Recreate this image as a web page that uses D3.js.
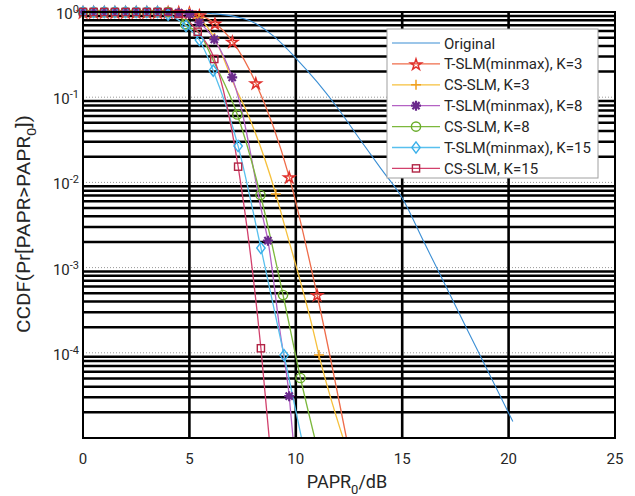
<!DOCTYPE html>
<html>
<head>
<meta charset="utf-8">
<script src="https://cdn.jsdelivr.net/npm/d3@7"></script>
<style>
  body { margin: 0; background: #fff; }
  svg { display: block; font-family: Roboto, "Liberation Sans", sans-serif; }
</style>
</head>
<body>
<svg id="viz" width="635" height="496"></svg>
<script>
(function () {
  "use strict";

  // ---- data ----
  const xTicks = [0, 5, 10, 15, 20, 25];
  const yDecades = [0, -1, -2, -3, -4];
  const seriesNames = ["Original", "T-SLM(minmax), K=3", "CS-SLM, K=3",
    "T-SLM(minmax), K=8", "CS-SLM, K=8", "T-SLM(minmax), K=15", "CS-SLM, K=15"];

  const origX = [0, 1, 2, 3, 4, 5, 6, 7, 8, 9, 10, 11, 12, 13, 14, 15, 16, 17, 18, 19, 20, 20.2];
  const origY = [1, 1, 1, 1, 1, 0.995, 0.96, 0.9, 0.76, 0.51, 0.288, 0.151, 0.0727, 0.0323,
    0.0145, 0.00656, 0.00205, 6.4e-4, 2.0e-4, 6.3e-5, 1.96e-5, 1.56e-5];

  const tslm3X = [0, 0.5, 1, 1.5, 2, 2.5, 3, 3.5, 4, 4.5, 5, 5.47, 6.2, 7.02, 8.12, 9.69, 11.0, 12.38];
  const tslm3Y = [1, 1, 1, 1, 1, 1, 1, 1, 1, 1, 0.99, 0.92, 0.736, 0.451, 0.147, 0.0116, 4.8e-4, 1e-5];
  const tslm3Mk = [0, 0.5, 1, 1.5, 2, 2.5, 3, 3.5, 4, 4.5, 5, 5.47, 6.2, 7.02, 8.12, 9.69, 11.0];

  const cs3X = [0, 0.5, 1, 1.5, 2, 2.5, 3, 3.5, 4, 4.5, 5, 5.45, 6.18, 7.14, 7.66, 9.06, 9.4, 10.81, 11.09, 12.22];
  const cs3Y = [1, 1, 1, 1, 1, 1, 1, 1, 1, 0.99, 0.98, 0.85, 0.495, 0.133, 0.0708, 0.00731, 0.00363, 1.86e-4, 9.4e-5, 1e-5];
  const cs3Mk = [0, 0.5, 1, 1.5, 2, 2.5, 3, 3.5, 4, 4.5, 5, 5.45, 6.18, 9.06, 11.09];

  const tslm8X = [0, 0.5, 1, 1.5, 2, 2.5, 3, 3.5, 4, 4.5, 5, 5.47, 6.17, 7.01, 7.34, 8.43, 8.69, 9.25, 9.69, 9.87];
  const tslm8Y = [1, 1, 1, 1, 1, 1, 1, 1, 1, 0.98, 0.95, 0.753, 0.478, 0.171, 0.0927, 0.00414, 0.00207, 1.85e-4, 3.1e-5, 1e-5];
  const tslm8Mk = [0, 0.5, 1, 1.5, 2, 2.5, 3, 3.5, 4, 4.5, 5, 5.47, 6.17, 7.01, 8.69, 9.69];

  const cs8X = [0, 0.5, 1, 1.5, 2, 2.5, 3, 3.5, 4, 4.5, 4.8, 5.47, 6.11, 7.25, 8.34, 9.4, 10.22, 10.89];
  const cs8Y = [1, 1, 1, 1, 1, 1, 1, 1, 1, 0.93, 0.72, 0.567, 0.273, 0.0626, 0.00711, 4.77e-4, 5.06e-5, 1e-5];
  const cs8Mk = [0, 0.5, 1, 1.5, 2, 2.5, 3, 3.5, 4, 4.8, 7.25, 8.34, 9.4, 10.22];

  const tslm15X = [0, 0.5, 1, 1.5, 2, 2.5, 3, 3.5, 4, 4.84, 5.47, 6.12, 7.29, 8.36, 9.45, 10.27];
  const tslm15Y = [1, 1, 1, 1, 1, 1, 1, 1, 0.93, 0.685, 0.469, 0.205, 0.0267, 0.0017, 9.34e-5, 1e-5];
  const tslm15Mk = [0, 0.5, 1, 1.5, 2, 2.5, 3, 3.5, 4, 4.84, 5.47, 6.12, 7.29, 8.36, 9.45];

  const cs15X = [0, 0.5, 1, 1.5, 2, 2.5, 3, 3.5, 4, 4.5, 5.39, 6.17, 7.29, 8.36, 8.75];
  const cs15Y = [1, 1, 1, 1, 1, 1, 1, 1, 1, 0.95, 0.587, 0.281, 0.0153, 1.13e-4, 1e-5];
  const cs15Mk = [0, 0.5, 1, 1.5, 2, 2.5, 3, 3.5, 4, 4.5, 5.39, 6.17, 7.29, 8.36];

  // ---- layout ----
  const plot = { left: 83, right: 615, top: 12, bottom: 438 };

  const x = d3.scaleLinear().domain([0, 25]).range([plot.left, plot.right]);
  const y = d3.scaleLog().domain([1e-5, 1]).range([plot.bottom, plot.top]);

  const styles = [
    { line: "#3a8ed4", mark: null, symbol: null, width: 1.1 },
    { line: "#ef6c4a", mark: "#e0302c", symbol: "star", width: 1.3 },
    { line: "#f6c03c", mark: "#f0a020", symbol: "plus", width: 1.3 },
    { line: "#b462c4", mark: "#6a2a8c", symbol: "asterisk", width: 1.3 },
    { line: "#7cb83c", mark: "#6aac2c", symbol: "circle", width: 1.3 },
    { line: "#58c0ee", mark: "#3ab0ea", symbol: "diamond", width: 1.3 },
    { line: "#d2406c", mark: "#b02444", symbol: "square", width: 1.3 }
  ];

  const series = [
    { xs: origX, ys: origY, mk: [] },
    { xs: tslm3X, ys: tslm3Y, mk: tslm3Mk },
    { xs: cs3X, ys: cs3Y, mk: cs3Mk },
    { xs: tslm8X, ys: tslm8Y, mk: tslm8Mk },
    { xs: cs8X, ys: cs8Y, mk: cs8Mk },
    { xs: tslm15X, ys: tslm15Y, mk: tslm15Mk },
    { xs: cs15X, ys: cs15Y, mk: cs15Mk }
  ];

  const svg = d3.select("#viz");
  svg.append("rect").attr("width", 635).attr("height", 496).attr("fill", "#fff");

  svg.append("defs").append("clipPath").attr("id", "clip")
    .append("rect")
    .attr("x", plot.left).attr("y", plot.top)
    .attr("width", plot.right - plot.left).attr("height", plot.bottom - plot.top);

  // ---- grid ----
  const grid = svg.append("g");
  let minor = [];
  for (let k = -5; k < 0; k++) {
    for (let m = 2; m <= 9; m++) minor.push(m * Math.pow(10, k));
  }
  grid.selectAll(".minor").data(minor).enter().append("line")
    .attr("x1", plot.left).attr("x2", plot.right)
    .attr("y1", d => y(d)).attr("y2", d => y(d))
    .attr("stroke", "#000").attr("stroke-width", 2.5);

  grid.selectAll(".decade").data(yDecades.slice(1)).enter().append("line")
    .attr("x1", plot.left).attr("x2", plot.right)
    .attr("y1", d => y(Math.pow(10, d))).attr("y2", d => y(Math.pow(10, d)))
    .attr("stroke", "#999").attr("stroke-width", 1).attr("stroke-dasharray", "1,2");

  grid.selectAll(".vgrid").data(xTicks.slice(1, -1)).enter().append("line")
    .attr("x1", d => x(d)).attr("x2", d => x(d))
    .attr("y1", plot.top).attr("y2", plot.bottom)
    .attr("stroke", "#000").attr("stroke-width", 2.6);

  // ---- markers ----
  function drawMarker(g, type, color, cx, cy) {
    if (type === "star") {
      g.append("path").attr("d", d3.symbol(d3.symbolStar).size(38)())
        .attr("transform", `translate(${cx},${cy + 0.8})`)
        .attr("fill", "none").attr("stroke", color).attr("stroke-width", 1.5);
    } else if (type === "plus") {
      g.append("path").attr("d", "M-5,0H5M0,-5V5")
        .attr("transform", `translate(${cx},${cy})`)
        .attr("stroke", color).attr("stroke-width", 1.5);
    } else if (type === "asterisk") {
      g.append("path").attr("d", "M-5,0H5M0,-5V5M-3.6,-3.6L3.6,3.6M-3.6,3.6L3.6,-3.6")
        .attr("transform", `translate(${cx},${cy})`)
        .attr("stroke", color).attr("stroke-width", 2.2);
    } else if (type === "circle") {
      g.append("circle").attr("cx", cx).attr("cy", cy).attr("r", 4.6)
        .attr("fill", "none").attr("stroke", color).attr("stroke-width", 1.4);
    } else if (type === "diamond") {
      g.append("path").attr("d", "M0,-5.6L4.2,0L0,5.6L-4.2,0Z")
        .attr("transform", `translate(${cx},${cy})`)
        .attr("fill", "none").attr("stroke", color).attr("stroke-width", 1.4);
    } else if (type === "square") {
      g.append("rect").attr("x", cx - 3.6).attr("y", cy - 3.6)
        .attr("width", 7.2).attr("height", 7.2)
        .attr("fill", "none").attr("stroke", color).attr("stroke-width", 1.4);
    }
  }

  // ---- series ----
  const lineGen = d3.line()
    .x(d => x(d[0])).y(d => y(d[1]))
    .curve(d3.curveMonotoneX);

  const plotG = svg.append("g").attr("clip-path", "url(#clip)");

  series.forEach(function (s, i) {
    const pts = s.xs.map((v, j) => [v, s.ys[j]]);
    const st = styles[i];
    plotG.append("path").datum(pts)
      .attr("d", lineGen)
      .attr("fill", "none")
      .attr("stroke", st.line)
      .attr("stroke-width", st.width);
    const mg = svg.append("g");
    s.mk.forEach(function (mx) {
      const j = s.xs.indexOf(mx);
      drawMarker(mg, st.symbol, st.mark, x(mx), y(s.ys[j]));
    });
  });

  // ---- axes box ----
  svg.append("rect")
    .attr("x", plot.left).attr("y", plot.top)
    .attr("width", plot.right - plot.left).attr("height", plot.bottom - plot.top)
    .attr("fill", "none").attr("stroke", "#000").attr("stroke-width", 2);

  // ---- tick labels ----
  svg.append("g").selectAll("text").data(xTicks).enter().append("text")
    .attr("x", d => x(d)).attr("y", 464)
    .attr("text-anchor", "middle")
    .attr("font-size", 15).attr("fill", "#262626")
    .text(d => d);

  const yl = svg.append("g").selectAll("text").data(yDecades).enter().append("text")
    .attr("x", 79).attr("y", d => y(Math.pow(10, d)) + 7)
    .attr("text-anchor", "end")
    .attr("font-size", 15).attr("fill", "#262626");
  yl.append("tspan").text("10");
  yl.append("tspan").attr("dy", -6).attr("font-size", 11).text(d => d === 0 ? "0" : "-" + (-d));

  // ---- axis titles ----
  const xt = svg.append("text")
    .attr("x", 347).attr("y", 488)
    .attr("text-anchor", "middle")
    .attr("font-size", 18).attr("fill", "#262626");
  xt.append("tspan").text("PAPR");
  xt.append("tspan").attr("dy", 6).attr("font-size", 13).text("0");
  xt.append("tspan").attr("dy", -6).text("/dB");

  const yt = svg.append("text")
    .attr("transform", "translate(30,224) rotate(-90)")
    .attr("text-anchor", "middle")
    .attr("font-size", 18).attr("fill", "#262626");
  yt.append("tspan").text("CCDF(Pr[PAPR>PAPR");
  yt.append("tspan").attr("dy", 6).attr("font-size", 13).text("0");
  yt.append("tspan").attr("dy", -6).text("])");
  yt.attr("textLength", 218).attr("lengthAdjust", "spacingAndGlyphs");

  // ---- legend ----
  const legend = svg.append("g");
  legend.append("rect")
    .attr("x", 387).attr("y", 29).attr("width", 211).attr("height", 149)
    .attr("fill", "#fff").attr("stroke", "#a0a0a0").attr("stroke-width", 1);

  seriesNames.forEach(function (name, i) {
    const ly = 43 + i * 20.9;
    const st = styles[i];
    legend.append("line")
      .attr("x1", 392).attr("x2", 440).attr("y1", ly).attr("y2", ly)
      .attr("stroke", st.line).attr("stroke-width", st.width);
    if (st.symbol) drawMarker(legend, st.symbol, st.mark, 416, ly);
    legend.append("text")
      .attr("x", 444).attr("y", ly + 5.5)
      .attr("font-size", 15).attr("fill", "#262626")
      .text(name);
  });
})();
</script>
</body>
</html>
